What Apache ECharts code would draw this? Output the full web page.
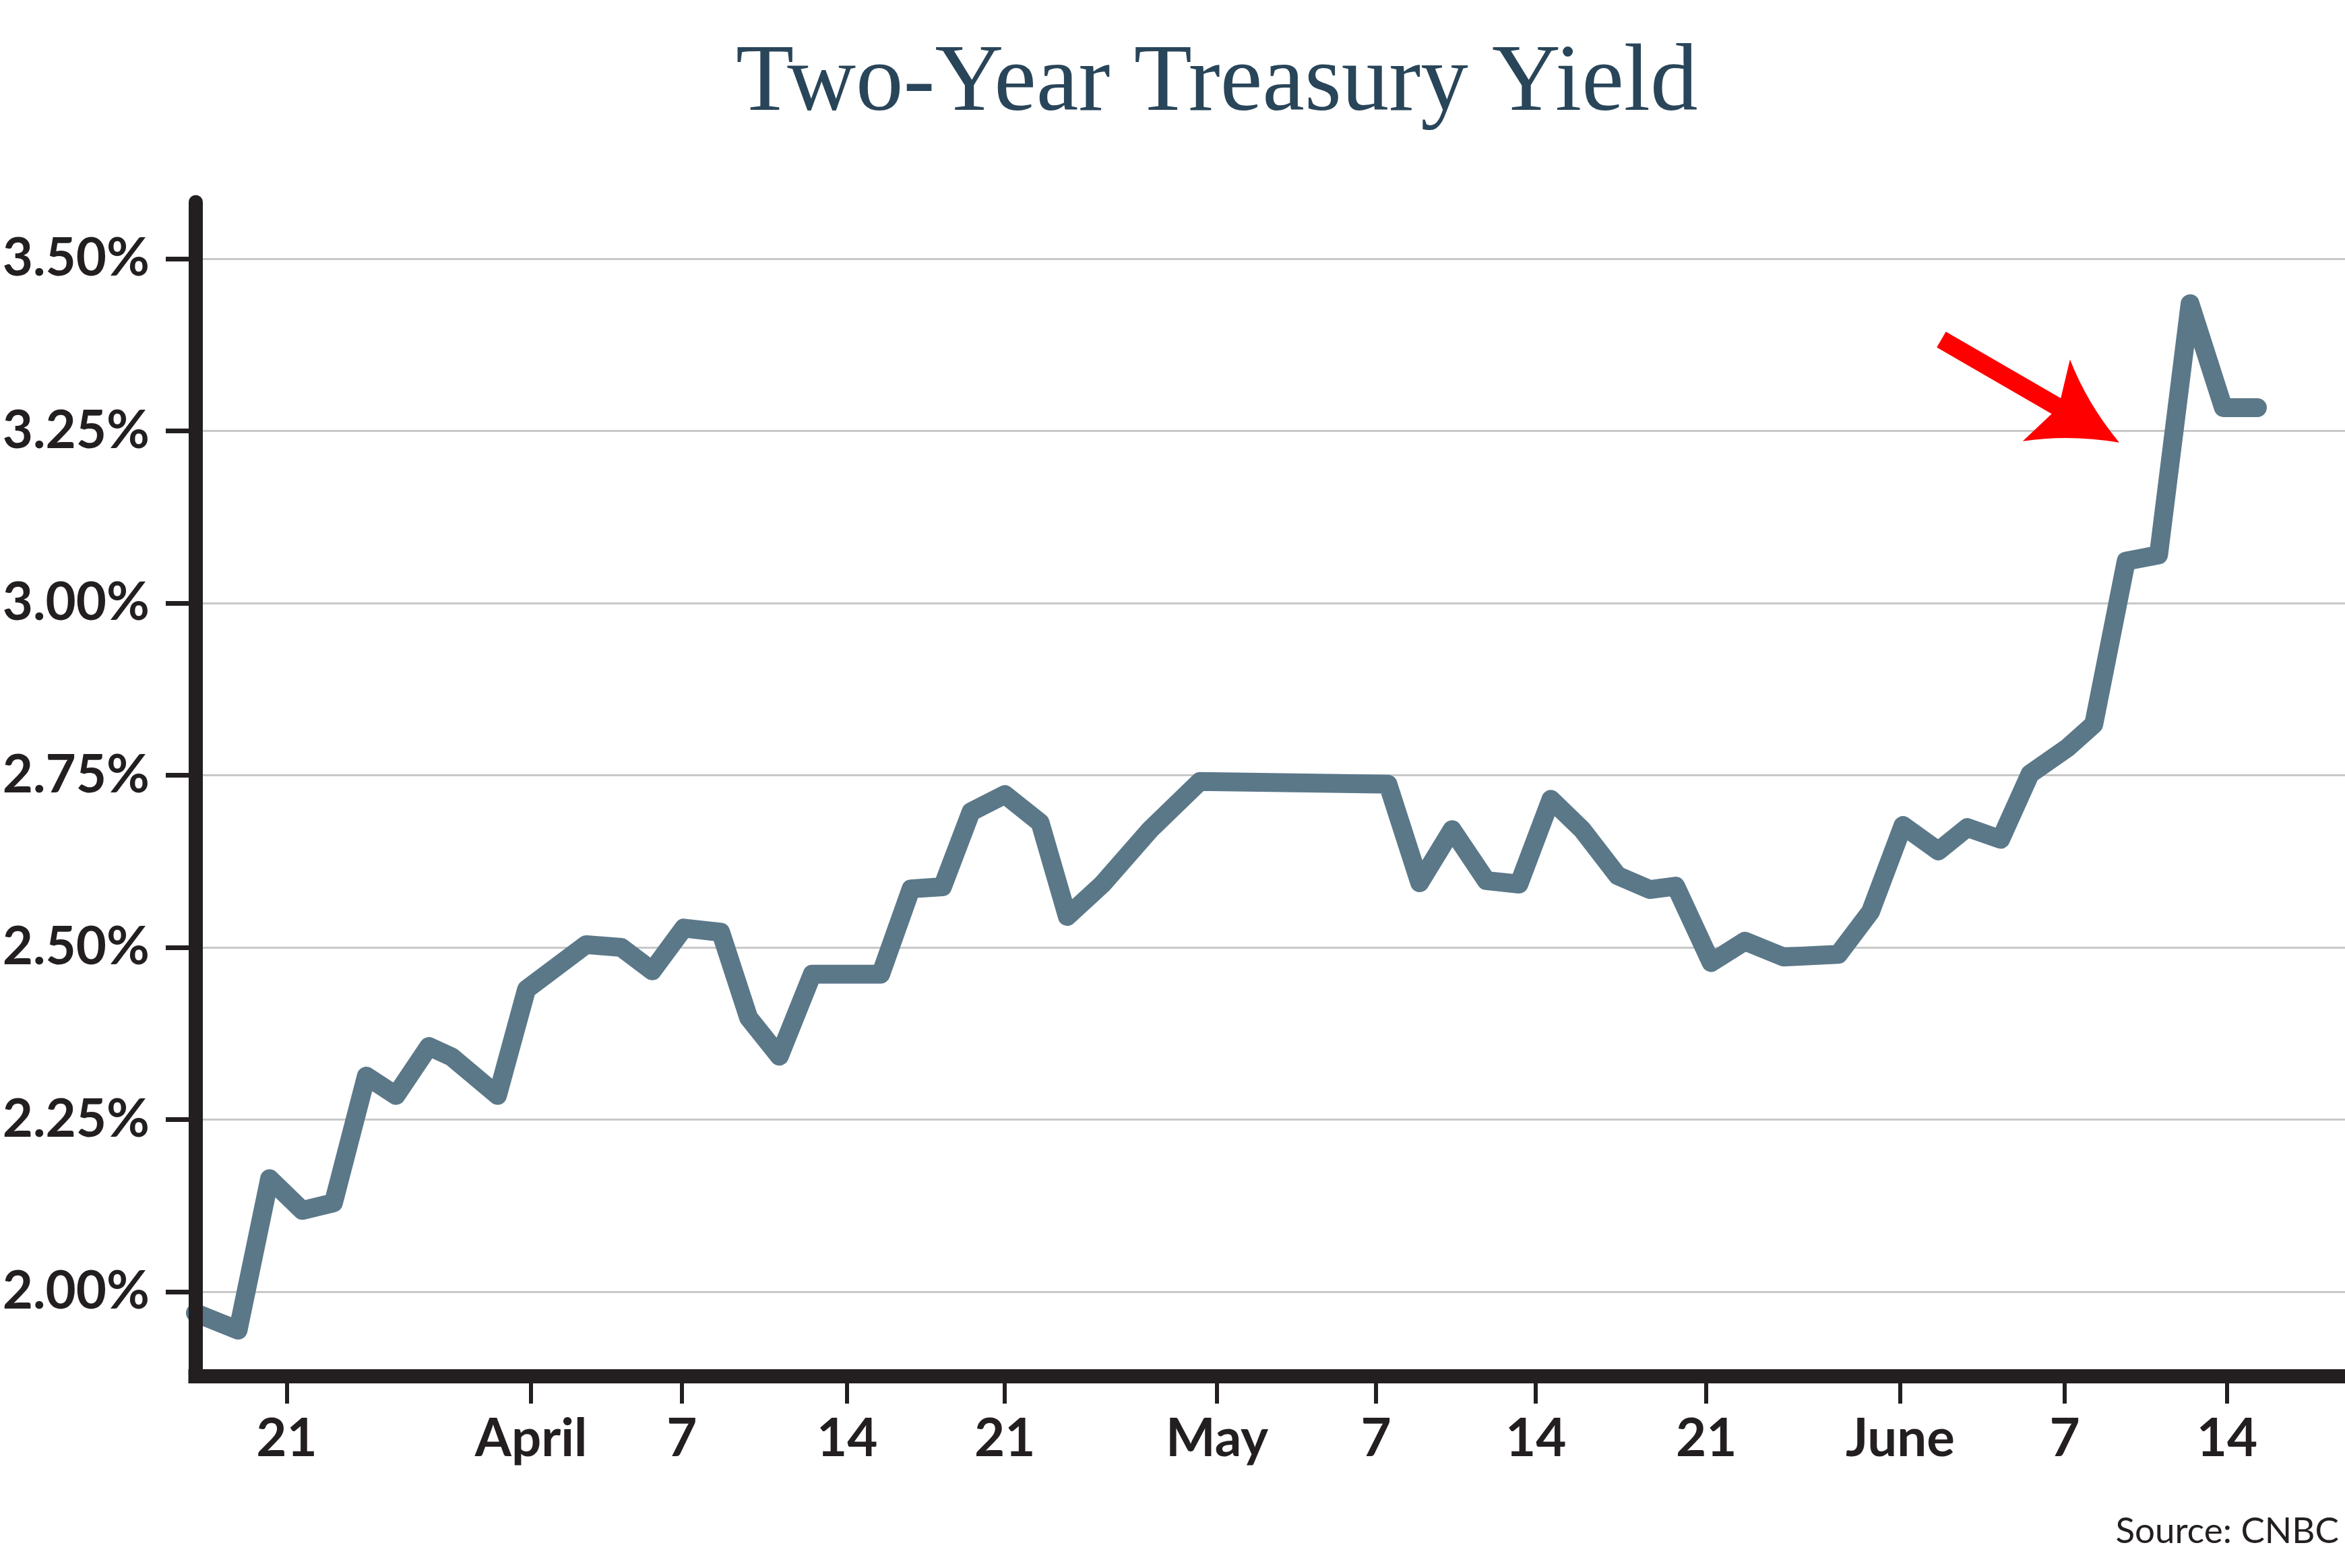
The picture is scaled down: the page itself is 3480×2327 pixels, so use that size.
<!DOCTYPE html>
<html>
<head>
<meta charset="utf-8">
<script src="https://cdn.jsdelivr.net/npm/echarts@6/dist/echarts.min.js"></script>
<style>
html, body { margin: 0; padding: 0; background: #ffffff; }
#chart { width: 3480px; height: 2327px; }
</style>
</head>
<body>
<div id="chart"></div>
<script>
// ---- Data ----
const titleText = 'Two-Year Treasury Yield';
const sourceText = 'Source: CNBC';

// x position of each point, in days counted from the "21" (March 21) tick, as drawn
const dayPos = [-4.0, -2.13, -0.75, 0.68, 2.05, 3.49, 4.79, 6.23, 7.23, 9.24,
  10.51, 13.12, 14.66, 16.02, 17.40, 19.02, 20.24, 21.59, 23.03, 26.03,
  27.36, 28.74, 29.99, 31.47, 33.02, 34.21, 35.75, 37.84, 40.02, 48.26,
  49.65, 51.07, 52.57, 54.00, 55.40, 56.77, 58.33, 59.74, 60.87, 62.42,
  63.90, 65.60, 68.00, 69.41, 70.83, 72.38, 73.65, 75.11, 76.40, 78.04,
  79.19, 80.61, 82.03, 83.41, 84.87, 86.36];

// two-year yield, percent
const yieldPct = [1.969, 1.944, 2.164, 2.118, 2.129, 2.313, 2.285, 2.356, 2.341, 2.285,
  2.439, 2.504, 2.500, 2.466, 2.528, 2.522, 2.398, 2.342, 2.461, 2.461,
  2.585, 2.588, 2.697, 2.722, 2.681, 2.545, 2.592, 2.671, 2.741, 2.737,
  2.594, 2.671, 2.597, 2.592, 2.715, 2.671, 2.604, 2.584, 2.589, 2.478,
  2.509, 2.486, 2.490, 2.552, 2.677, 2.640, 2.674, 2.657, 2.752, 2.790,
  2.824, 3.061, 3.070, 3.435, 3.284, 3.284];

// x-axis ticks (positions as drawn) and their labels
const xTickPos = [0, 10.71, 17.32, 24.56, 31.47, 40.77, 47.74, 54.74, 62.21, 70.71, 77.92, 85.03];
const xTickLabels = ['21', 'April', '7', '14', '21', 'May', '7', '14', '21', 'June', '7', '14'];

// y-axis ticks
const yTicks = [2.00, 2.25, 2.50, 2.75, 3.00, 3.25, 3.50];

// annotation arrow (data coordinates: start of shaft, centre of head)
const arrowFrom = [72.51, 3.383];
const arrowTo = [78.71, 3.264];

// ---- Chart ----
const X_MIN = -4, X_MAX = 90.2;
const Y_MIN = 1.8775, Y_MAX = 3.5825;
const INK = '#231f20';
const LABEL_SIZE = 78;

function xLabel(v) {
  let best = 0;
  for (let i = 1; i < xTickPos.length; i++) {
    if (Math.abs(xTickPos[i] - v) < Math.abs(xTickPos[best] - v)) best = i;
  }
  return xTickLabels[best];
}

const arrowHead = 'path://M70 0 Q96 70 140 125 L70 104 L0 125 Q44 70 70 0 Z';

const chart = echarts.init(document.getElementById('chart'), null, { renderer: 'canvas' });
chart.setOption({
  animation: false,
  backgroundColor: '#ffffff',
  title: [
    {
      text: titleText, left: 1092, top: 55, padding: 0,
      textStyle: { fontFamily: 'Liberation Serif', fontSize: 141, fontWeight: 'normal', color: '#294559', lineHeight: 141 }
    },
    {
      text: sourceText, right: 9, top: 2246, padding: 0,
      textStyle: { fontFamily: 'Lato', fontSize: 53, fontWeight: 'normal', color: INK, lineHeight: 53 }
    }
  ],
  grid: { left: 290, right: 0, top: 300, bottom: 285, containLabel: false, outerBoundsMode: 'none' },
  xAxis: {
    type: 'value', min: X_MIN, max: X_MAX, z: 10,
    axisLine: { show: true, onZero: false, lineStyle: { color: INK, width: 21, cap: 'square' } },
    axisTick: { show: true, customValues: xTickPos, length: 41, lineStyle: { color: INK, width: 6 } },
    axisLabel: {
      show: true, customValues: xTickPos, margin: 55, formatter: xLabel,
      fontFamily: 'Lato', fontWeight: 'bold', fontSize: LABEL_SIZE, color: INK, lineHeight: LABEL_SIZE
    },
    splitLine: { show: false }
  },
  yAxis: [
    {
      type: 'value', min: Y_MIN, max: Y_MAX, position: 'left',
      axisLine: { show: false, onZero: false },
      axisTick: { show: true, customValues: yTicks, length: 44, lineStyle: { color: INK, width: 7 } },
      axisLabel: {
        show: true, customValues: yTicks, margin: 68,
        formatter: function (v) { return v.toFixed(2) + '%'; },
        fontFamily: 'Lato', fontWeight: 'bold', fontSize: LABEL_SIZE, color: INK, lineHeight: LABEL_SIZE
      },
      splitLine: { show: true, lineStyle: { color: '#c8c8c8', width: 3 } }
    },
    {
      type: 'value', min: Y_MIN, max: Y_MAX, position: 'left', z: 10,
      axisLine: { show: true, onZero: false, lineStyle: { color: INK, width: 21 } },
      axisTick: { show: false }, axisLabel: { show: false }, splitLine: { show: false }
    }
  ],
  series: [{
    type: 'line',
    yAxisIndex: 0,
    data: dayPos.map(function (d, i) { return [d, yieldPct[i]]; }),
    symbol: 'none', showSymbol: false, silent: true, clip: true,
    lineStyle: { color: '#5b7889', width: 28, join: 'round', cap: 'round' },
    markLine: {
      silent: true, animation: false,
      symbol: ['none', arrowHead], symbolSize: [140, 125],
      label: { show: false },
      emphasis: { disabled: true },
      itemStyle: { color: '#ff0000' },
      lineStyle: { color: '#ff0000', width: 27, type: 'solid', cap: 'butt' },
      data: [[{ coord: arrowFrom }, { coord: arrowTo }]]
    }
  }]
});
</script>
</body>
</html>
